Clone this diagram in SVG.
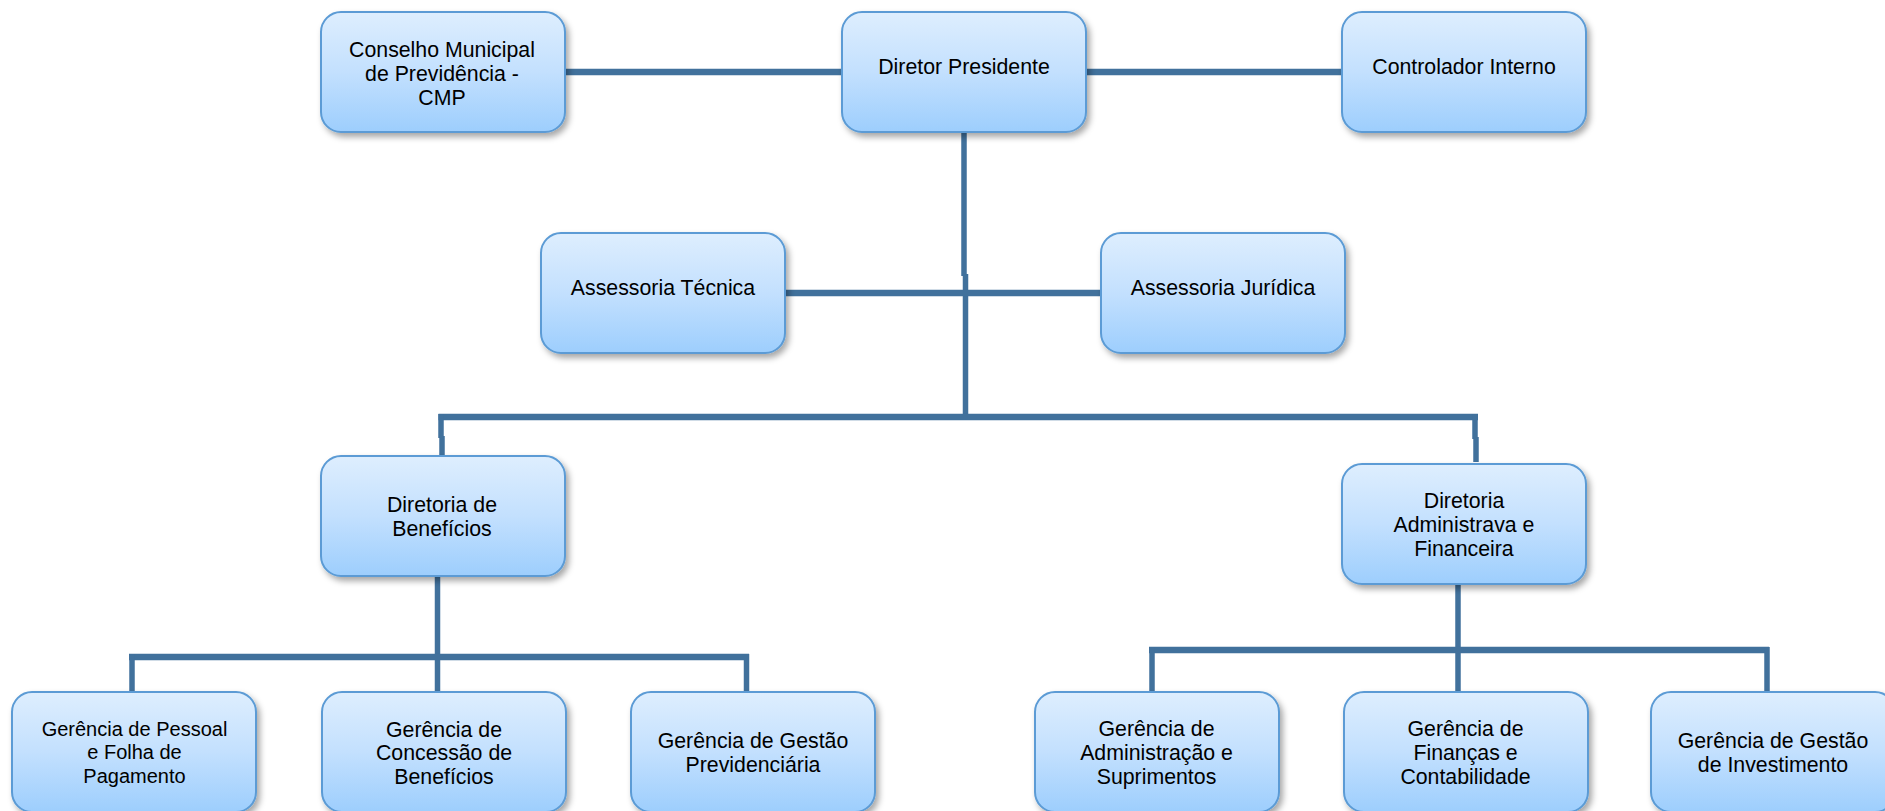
<svg xmlns="http://www.w3.org/2000/svg" width="1885" height="811" viewBox="0 0 1885 811">
  <style>
    .box { fill: url(#boxGrad); stroke: #5B9BD5; stroke-width: 2; filter: url(#shadow); }
    .lbl { font-family: "Liberation Sans", Arial, sans-serif; font-size: 21.3px; fill: #000; text-anchor: middle; }
    .sm { font-size: 20px; }
    .h { stroke: #41719C; stroke-width: 6.5; fill: none; }
    .v { stroke: #41719C; stroke-width: 5.5; fill: none; }
  </style>
  <defs>
    <linearGradient id="boxGrad" x1="0" y1="0" x2="0" y2="1">
      <stop offset="0" stop-color="#DEEEFE"/>
      <stop offset="0.5" stop-color="#C3E0FE"/>
      <stop offset="1" stop-color="#9DCEFD"/>
    </linearGradient>
    <filter id="shadow" x="-10%" y="-10%" width="125%" height="130%">
      <feDropShadow dx="3" dy="4" stdDeviation="3" flood-color="#000" flood-opacity="0.35"/>
    </filter>
  </defs>
  <rect width="1885" height="811" fill="#FFFFFF"/>

  <g id="connectors">
    <path class="h" d="M565 72 H842"/>
    <path class="h" d="M1086 72 H1342"/>
    <path class="v" d="M964 132 V276"/>
    <path class="v" d="M965.5 274 V420"/>
    <path class="h" d="M785 293 H1101"/>
    <path class="h" d="M438.5 417 H1478"/>
    <path class="v" d="M441 414 V438"/>
    <path class="v" d="M442 436 V456"/>
    <path class="v" d="M1475 414 V439"/>
    <path class="v" d="M1476 437 V462"/>
    <path class="v" d="M437.5 577 V692"/>
    <path class="h" d="M129 657 H749"/>
    <path class="v" d="M132 654 V692"/>
    <path class="v" d="M746.5 654 V692"/>
    <path class="v" d="M1458 585 V692"/>
    <path class="h" d="M1149 650 H1769"/>
    <path class="v" d="M1152 647 V692"/>
    <path class="v" d="M1767 647 V692"/>
  </g>

  <g id="conselho">
    <rect class="box" x="321" y="12" width="244" height="120" rx="20"/>
    <text class="lbl" x="442" y="56.7">Conselho Municipal</text>
    <text class="lbl" x="442" y="80.7">de Previdência -</text>
    <text class="lbl" x="442" y="104.7">CMP</text>
  </g>
  <g id="diretor-presidente">
    <rect class="box" x="842" y="12" width="244" height="120" rx="20"/>
    <text class="lbl" x="964" y="74">Diretor Presidente</text>
  </g>
  <g id="controlador-interno">
    <rect class="box" x="1342" y="12" width="244" height="120" rx="20"/>
    <text class="lbl" x="1464" y="74">Controlador Interno</text>
  </g>
  <g id="assessoria-tecnica">
    <rect class="box" x="541" y="233" width="244" height="120" rx="20"/>
    <text class="lbl" x="663" y="295">Assessoria Técnica</text>
  </g>
  <g id="assessoria-juridica">
    <rect class="box" x="1101" y="233" width="244" height="120" rx="20"/>
    <text class="lbl" x="1223" y="295">Assessoria Jurídica</text>
  </g>
  <g id="diretoria-beneficios">
    <rect class="box" x="321" y="456" width="244" height="120" rx="20"/>
    <text class="lbl" x="442" y="511.7">Diretoria de</text>
    <text class="lbl" x="442" y="535.7">Benefícios</text>
  </g>
  <g id="diretoria-adm-fin">
    <rect class="box" x="1342" y="464" width="244" height="120" rx="20"/>
    <text class="lbl" x="1464" y="507.5">Diretoria</text>
    <text class="lbl" x="1464" y="531.5">Administrava e</text>
    <text class="lbl" x="1464" y="555.5">Financeira</text>
  </g>
  <g id="gerencia-pessoal">
    <rect class="box" x="12" y="692" width="244" height="120" rx="20"/>
    <text class="lbl sm" x="134.5" y="736">Gerência de Pessoal</text>
    <text class="lbl sm" x="134.5" y="759.3">e Folha de</text>
    <text class="lbl sm" x="134.5" y="782.7">Pagamento</text>
  </g>
  <g id="gerencia-concessao">
    <rect class="box" x="322" y="692" width="244" height="120" rx="20"/>
    <text class="lbl" x="444" y="736.5">Gerência de</text>
    <text class="lbl" x="444" y="760">Concessão de</text>
    <text class="lbl" x="444" y="783.5">Benefícios</text>
  </g>
  <g id="gerencia-gestao-previdenciaria">
    <rect class="box" x="631" y="692" width="244" height="120" rx="20"/>
    <text class="lbl" x="753" y="748">Gerência de Gestão</text>
    <text class="lbl" x="753" y="772">Previdenciária</text>
  </g>
  <g id="gerencia-administracao">
    <rect class="box" x="1035" y="692" width="244" height="120" rx="20"/>
    <text class="lbl" x="1156.5" y="735.5">Gerência de</text>
    <text class="lbl" x="1156.5" y="759.5">Administração e</text>
    <text class="lbl" x="1156.5" y="783.5">Suprimentos</text>
  </g>
  <g id="gerencia-financas">
    <rect class="box" x="1344" y="692" width="244" height="120" rx="20"/>
    <text class="lbl" x="1465.5" y="735.5">Gerência de</text>
    <text class="lbl" x="1465.5" y="759.5">Finanças e</text>
    <text class="lbl" x="1465.5" y="783.5">Contabilidade</text>
  </g>
  <g id="gerencia-investimento">
    <rect class="box" x="1651" y="692" width="244" height="120" rx="20"/>
    <text class="lbl" x="1773" y="747.5">Gerência de Gestão</text>
    <text class="lbl" x="1773" y="771.5">de Investimento</text>
  </g>
</svg>
